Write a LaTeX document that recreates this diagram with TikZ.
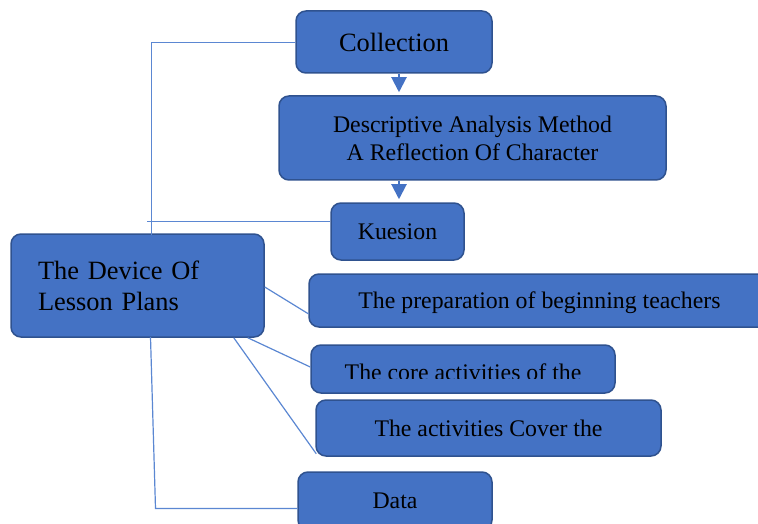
\documentclass[tikz,border=0pt]{standalone}
\usepackage{fontspec}
\setmainfont{Liberation Serif}
\usetikzlibrary{arrows.meta,calc}
\definecolor{boxfill}{HTML}{4472C4}
\definecolor{boxline}{HTML}{2F528F}
\definecolor{conn}{RGB}{91,135,210}
\tikzset{
  box/.style={draw=boxline, fill=boxfill, line width=1.5pt, rounded corners=10pt,
    inner sep=0pt, text=black, font=\fontsize{23.8}{28}\selectfont, align=center},
  big/.style={font=\fontsize{26.4}{31}\selectfont},
  conline/.style={draw=conn, line width=1.2pt},
  flow/.style={draw=boxfill, line width=2pt, -{Triangle[width=15pt,length=15pt]}, shorten >=3pt}
}
\begin{document}
\begin{tikzpicture}[x=1pt,y=-1pt]
\useasboundingbox (0,0) rectangle (758,524);
\coordinate (c1) at (151.5,42.5);
\coordinate (c2) at (151.5,235);
\coordinate (k1) at (147,221.5);
\coordinate (d0) at (150.5,337);
\coordinate (d1) at (155.5,508.5);

\node[box, big, minimum width=196pt, minimum height=62pt] (coll) at (394,42) {Collection};
\node[box, minimum width=387pt, minimum height=84pt] (desc) at (472.5,138) {Descriptive Analysis Method\\A Reflection Of Character};
\node[box, minimum width=133pt, minimum height=57pt] (kues) at (397.5,231.5) {Kuesion};
\node[box, big, text width=199pt, inner xsep=27pt, align=left, minimum height=103pt] (dev) at (137.5,285.5) {The Device Of\\Lesson Plans};
\node[box, minimum width=461pt, minimum height=53pt, text depth=0pt] (prep) at (539.5,300.5) {The preparation of beginning teachers};
\node[box, minimum width=304pt, minimum height=48pt] (core) at (463,369) {};
\begin{scope}
  \clip (311,345) rectangle (615,378);
  \node[font=\fontsize{23.8}{28}\selectfont, anchor=base, inner sep=0pt] (coretext) at (463,380) {The core activities of the};
\end{scope}
\node[box, minimum width=345pt, minimum height=56pt] (act) at (488.5,428) {The activities Cover the};
\node[box, minimum width=194pt, minimum height=58pt] (data) at (395,501) {Data};

\draw[conline] (coll.west |- c1) -- (c1) -- (c2);
\draw[conline] (k1) -- (k1 -| kues.west);
\draw[conline] ([yshift=-1.5pt]dev.east) -- ($(prep.south west)+(0,-14)$);
\draw[conline] ($(dev.south east)+(-17,0)$) -- ($(core.west)+(0,-2)$);
\draw[conline] ($(dev.south east)+(-31,0)$) -- ($(act.south west)+(1,-3)$);
\draw[conline] (d0) -- (d1) -- (d1 -| data.west);

\draw[flow] (coll.south -| 399,0) -- (desc.north -| 399,0);
\draw[flow] (desc.south -| 399,0) -- (kues.north -| 399,0);
\end{tikzpicture}
\end{document}
